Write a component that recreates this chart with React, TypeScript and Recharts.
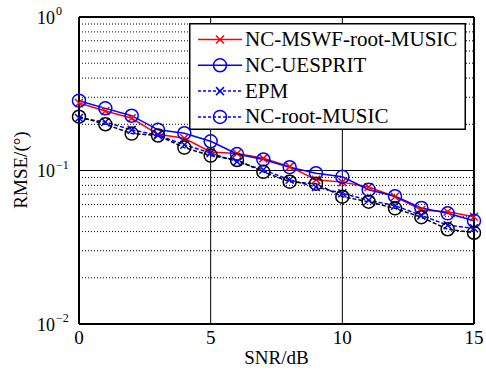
import React from 'react';
import {
  LineChart,
  Line,
  XAxis,
  YAxis,
  ReferenceLine,
} from 'recharts';

// SNR (dB) on the x axis
const snr = [0, 1, 2, 3, 4, 5, 6, 7, 8, 9, 10, 11, 12, 13, 14, 15];

// RMSE (deg)
const ncMswfRootMusic = [0.275, 0.244, 0.219, 0.172, 0.162, 0.132, 0.129, 0.12, 0.106, 0.087, 0.084, 0.078, 0.0675, 0.0553, 0.0539, 0.05];
const ncUesprit = [0.285, 0.254, 0.2275, 0.184, 0.175, 0.155, 0.128, 0.118, 0.105, 0.096, 0.091, 0.075, 0.068, 0.057, 0.0526, 0.047];
const epm = [0.22, 0.207, 0.184, 0.17, 0.147, 0.13, 0.114, 0.101, 0.087, 0.078, 0.071, 0.064, 0.059, 0.051, 0.044, 0.042];
const ncRootMusic = [0.224, 0.2, 0.174, 0.169, 0.141, 0.125, 0.117, 0.098, 0.0845, 0.082, 0.0675, 0.0626, 0.0567, 0.0496, 0.0414, 0.0393];

const xTicks = [0, 5, 10, 15];
const yTicks = [0.01, 0.1, 1];
const yTickExp = ['−2', '−1', '0'];
const minorGrid = [0.02, 0.03, 0.04, 0.05, 0.06, 0.07, 0.08, 0.09, 0.2, 0.3, 0.4, 0.5, 0.6, 0.7, 0.8, 0.9];
const majorGridX = [5, 10];

const FONT = "'Times New Roman', 'Liberation Serif', 'DejaVu Serif', serif";
const txt = { fontFamily: FONT };

const datos = snr.map((s, i) => ({
  snr: s,
  mswf: ncMswfRootMusic[i],
  uesprit: ncUesprit[i],
  epm: epm[i],
  root: ncRootMusic[i],
}));

// marcador "x"
const crossDot = (color: string) => (props: any) => {
  const { cx, cy, index } = props;
  if (cx == null || cy == null) return <g key={`x-${index}`} />;
  const r = 4;
  return (
    <path
      key={`x-${color}-${index}`}
      d={`M${cx - r},${cy - r}L${cx + r},${cy + r}M${cx - r},${cy + r}L${cx + r},${cy - r}`}
      stroke={color}
      strokeWidth={1.5}
      fill="none"
    />
  );
};

// marcador circulo
const circleDot = (color: string) => (props: any) => {
  const { cx, cy, index } = props;
  if (cx == null || cy == null) return <g key={`o-${index}`} />;
  return <circle key={`o-${color}-${index}`} cx={cx} cy={cy} r={6.5} stroke={color} strokeWidth={1.5} fill="none" />;
};

const XTick = (props: any) => {
  const { x, y, payload } = props;
  return (
    <text x={x} y={y + 20} textAnchor="middle" fontSize={19} style={txt} fill="#000">
      {payload.value}
    </text>
  );
};

const YTick = (props: any) => {
  const { x, y, payload, index } = props;
  const exp = yTickExp[yTicks.indexOf(payload.value)] ?? yTickExp[index];
  return (
    <g>
      <text x={x - 24} y={y + 6.5} textAnchor="end" fontSize={18} style={txt} fill="#000">
        10
      </text>
      <text x={x - 23} y={y - 2} textAnchor="start" fontSize={12} style={txt} fill="#000">
        {exp}
      </text>
    </g>
  );
};

const legendItems = [
  { name: 'NC-MSWF-root-MUSIC', color: '#ff0000', dash: undefined, marker: 'x' },
  { name: 'NC-UESPRIT', color: '#0000ff', dash: undefined, marker: 'o' },
  { name: 'EPM', color: '#0000ff', dash: '3 2', marker: 'x' },
  { name: 'NC-root-MUSIC', color: '#0000ff', dash: '3 2', marker: 'o' },
];

const LegendBox = () => (
  <svg width={277} height={107} style={{ display: 'block', position: 'absolute', left: 189, top: 23 }}>
    <rect x={0.75} y={0.75} width={275.5} height={105.5} fill="#fff" stroke="#000" strokeWidth={1.5} />
    {legendItems.map((it, i) => {
      const cy = 16.5 + i * 25.8;
      return (
        <g key={it.name}>
          <line x1={9} x2={53} y1={cy} y2={cy} stroke={it.color} strokeWidth={1.5} strokeDasharray={it.dash} />
          {it.marker === 'x' ? (
            <path d={`M27,${cy - 4}L35,${cy + 4}M27,${cy + 4}L35,${cy - 4}`} stroke={it.color} strokeWidth={1.5} />
          ) : (
            <circle cx={31} cy={cy} r={6.5} fill="none" stroke={it.color} strokeWidth={1.5} />
          )}
          <text x={56} y={cy + 6.5} fontSize={21} style={txt} fill="#000">
            {it.name}
          </text>
        </g>
      );
    })}
  </svg>
);

const renderXLabel = (props: any) => {
  const { viewBox } = props;
  return (
    <text x={viewBox.x + viewBox.width / 2} y={364} textAnchor="middle" fontSize={19} style={txt} fill="#000">
      SNR/dB
    </text>
  );
};

const renderYLabel = () => (
  <text x={0} y={0} transform="translate(27,170) rotate(-90)" textAnchor="middle" fontSize={19} style={txt} fill="#000">
    RMSE/(°)
  </text>
);

export default function App() {
  return (
    <div style={{ position: 'absolute', left: 0, top: 0, width: 486, height: 371, background: '#fff' }}>
      <LineChart width={486} height={371} data={datos} margin={{ top: 17, right: 12, left: 0, bottom: 0 }}>
        {minorGrid.map((v) => (
          <ReferenceLine key={`m${v}`} y={v} stroke="#000" strokeWidth={1} strokeDasharray="1 2" />
        ))}
        <ReferenceLine y={0.1} stroke="#000" strokeWidth={1} />
        {majorGridX.map((v) => (
          <ReferenceLine key={`v${v}`} x={v} stroke="#000" strokeWidth={1} />
        ))}
        <ReferenceLine y={1} stroke="#000" strokeWidth={2} />
        <ReferenceLine x={15} stroke="#000" strokeWidth={2} />
        <XAxis
          dataKey="snr"
          type="number"
          domain={[0, 15]}
          ticks={xTicks}
          height={47}
          tickSize={0}
          tickMargin={0}
          tickLine={false}
          axisLine={{ stroke: '#000', strokeWidth: 2 }}
          tick={<XTick />}
          label={{ content: renderXLabel }}
        />
        <YAxis
          scale="log"
          type="number"
          domain={[0.01, 1]}
          ticks={yTicks}
          allowDataOverflow
          width={79}
          tickSize={0}
          tickMargin={0}
          tickLine={false}
          axisLine={{ stroke: '#000', strokeWidth: 2 }}
          tick={<YTick />}
          label={{ content: renderYLabel }}
        />
        <Line dataKey="mswf" stroke="#ff0000" strokeWidth={1.5} dot={crossDot('#ff0000')} isAnimationActive={false} />
        <Line dataKey="uesprit" stroke="#0000ff" strokeWidth={1.5} dot={circleDot('#0000ff')} isAnimationActive={false} />
        <Line dataKey="epm" stroke="#0000ff" strokeWidth={1.5} strokeDasharray="4 2" dot={crossDot('#0000ff')} isAnimationActive={false} />
        <Line dataKey="root" stroke="#000000" strokeWidth={1.5} strokeDasharray="4 2" dot={circleDot('#000000')} isAnimationActive={false} />
      </LineChart>
      <LegendBox />
    </div>
  );
}
